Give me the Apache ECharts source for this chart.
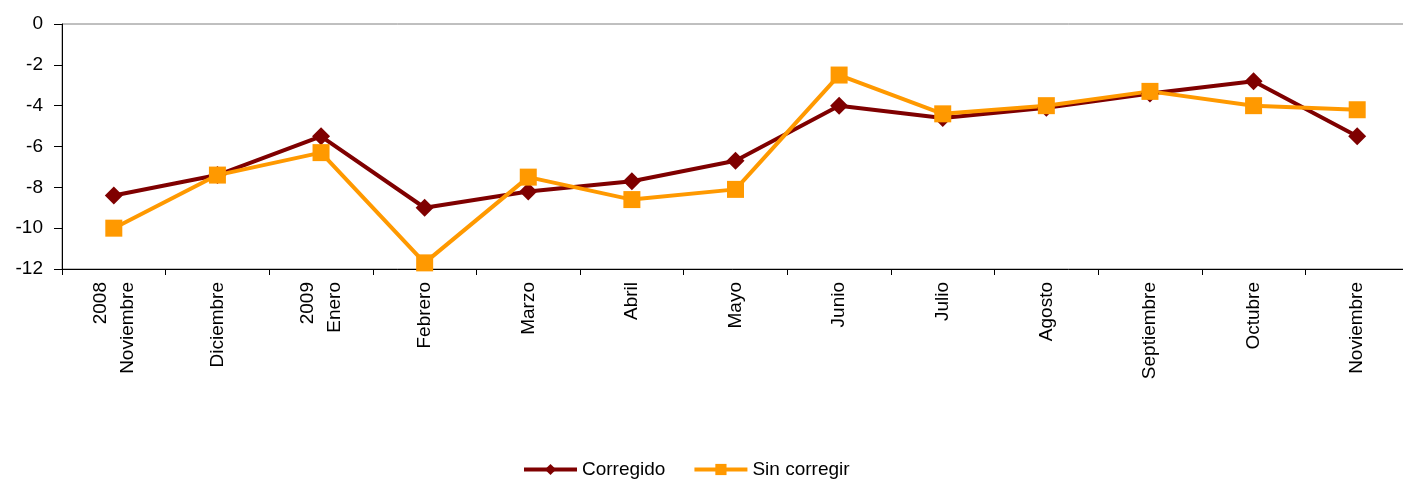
<!DOCTYPE html>
<html>
<head>
<meta charset="utf-8">
<script src="https://cdn.jsdelivr.net/npm/echarts@6/dist/echarts.min.js"></script>
<style>
  html, body { margin: 0; padding: 0; background: #fff; }
  #main { width: 1403px; height: 482px; }
</style>
</head>
<body>
<div id="main"></div>
<script>
  // meses (nov 2008 - nov 2009)
  var meses = ['2008\nNoviembre', 'Diciembre', '2009\nEnero', 'Febrero', 'Marzo', 'Abril', 'Mayo',
               'Junio', 'Julio', 'Agosto', 'Septiembre', 'Octubre', 'Noviembre'];
  var corregido   = [-8.4, -7.4, -5.5, -9.0, -8.2, -7.7, -6.7, -4.0, -4.6, -4.1, -3.4, -2.8, -5.5];
  var sinCorregir = [-10.0, -7.4, -6.3, -11.7, -7.5, -8.6, -8.1, -2.5, -4.4, -4.0, -3.3, -4.0, -4.2];

  var font = 'Liberation Sans, Arial, sans-serif';
  var chart = echarts.init(document.getElementById('main'));
  chart.setOption({
    animation: false,
    backgroundColor: '#fff',
    textStyle: { fontFamily: font },
    grid: {
      left: 62, top: 24, width: 1347, height: 245,
      outerBoundsMode: 'none',
      show: true, borderColor: '#808080', borderWidth: 1
    },
    legend: {
      left: 522, top: 460, padding: 0,
      itemWidth: 53, itemHeight: 14, itemGap: 27,
      lineStyle: { width: 4 },
      textStyle: { fontSize: 19, color: '#000', fontFamily: font },
      data: ['Corregido', 'Sin corregir']
    },
    xAxis: {
      type: 'category',
      data: meses,
      boundaryGap: true,
      axisLine: { onZero: false, lineStyle: { color: '#000', width: 1 } },
      axisTick: { show: true, length: 6, interval: 0, lineStyle: { color: '#000' } },
      axisLabel: {
        interval: 0, rotate: 90, margin: 13,
        fontSize: 19, lineHeight: 27, color: '#000', fontFamily: font
      },
      splitLine: { show: false }
    },
    yAxis: {
      type: 'value',
      min: -12, max: 0, interval: 2,
      axisLine: { show: true, lineStyle: { color: '#000', width: 1 } },
      axisTick: { show: true, length: 8, lineStyle: { color: '#000' } },
      axisLabel: { margin: 19, fontSize: 19, color: '#000', fontFamily: font },
      splitLine: { show: false }
    },
    series: [
      {
        name: 'Corregido',
        type: 'line',
        data: corregido,
        symbol: 'diamond',
        symbolSize: 18,
        color: '#7F0000',
        lineStyle: { width: 4, color: '#7F0000' },
        itemStyle: { color: '#7F0000' }
      },
      {
        name: 'Sin corregir',
        type: 'line',
        data: sinCorregir,
        symbol: 'rect',
        symbolSize: 17,
        color: '#FF9900',
        lineStyle: { width: 4, color: '#FF9900' },
        itemStyle: { color: '#FF9900' }
      }
    ]
  });
</script>
</body>
</html>
